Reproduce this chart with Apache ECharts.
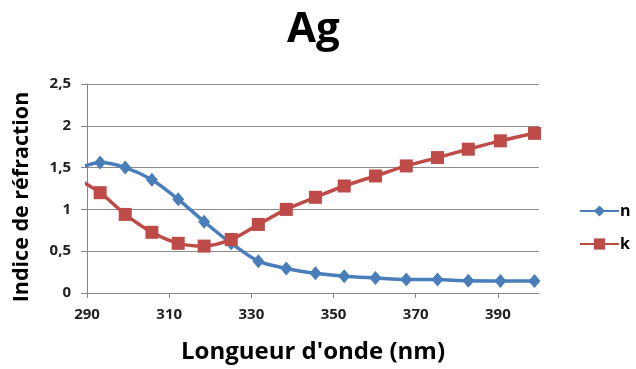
<!DOCTYPE html>
<html>
<head>
<meta charset="utf-8">
<script src="https://cdn.jsdelivr.net/npm/echarts@6/dist/echarts.min.js"></script>
<style>
  html, body { margin: 0; padding: 0; background: #fff; }
  #chart { width: 636px; height: 369px; }
</style>
</head>
<body>
<div id="chart"></div>
<script>
// longueur d'onde (nm) et indices
const wavelengths = [287.1, 293.2, 299.3, 305.8, 312.2, 318.5, 325.1, 331.7, 338.5, 345.6, 352.6, 360.2, 367.7, 375.3, 382.8, 390.6, 398.9];
const nValues = [1.47, 1.56, 1.50, 1.355, 1.12, 0.853, 0.594, 0.381, 0.293, 0.235, 0.20, 0.18, 0.162, 0.16, 0.147, 0.145, 0.145];
const kValues = [1.38, 1.20, 0.94, 0.726, 0.594, 0.561, 0.64, 0.82, 1.00, 1.145, 1.28, 1.40, 1.52, 1.62, 1.72, 1.82, 1.91];
const xTicks = [290, 310, 330, 350, 370, 390];

const font = "'Open Sans', 'Liberation Sans', sans-serif";
const chart = echarts.init(document.getElementById("chart"));

const option = {
  animation: false,
  backgroundColor: "#ffffff",
  textStyle: { fontFamily: font },
  title: {
    text: "Ag",
    left: 282,
    top: 4,
    textStyle: { fontSize: 42, fontWeight: "bold", color: "#000", fontFamily: font },
  },
  legend: {
    orient: "vertical",
    left: 574,
    top: 198,
    itemGap: 17,
    itemWidth: 39,
    itemHeight: 14,
    textStyle: { fontSize: 16, fontWeight: "bold", color: "#000", padding: [0, 0, 0, -4] },
    data: ["n", "k"],
  },
  grid: { left: 87, right: 97, top: 84, bottom: 76 },
  xAxis: {
    type: "value",
    min: 290,
    max: 400,
    interval: 20,
    name: "Longueur d'onde (nm)",
    nameLocation: "middle",
    nameGap: 47,
    nameTextStyle: { fontSize: 24, fontWeight: "bold", color: "#000" },
    axisLine: { lineStyle: { color: "#868686", width: 1 } },
    axisTick: { show: true, length: 5, customValues: xTicks, lineStyle: { color: "#868686" } },
    axisLabel: { customValues: xTicks, fontSize: 15, fontWeight: "bold", color: "#222", margin: 14 },
    splitLine: { show: false },
  },
  yAxis: {
    type: "value",
    min: 0,
    max: 2.5,
    interval: 0.5,
    name: "Indice de réfraction",
    nameLocation: "middle",
    nameGap: 54,
    nameTextStyle: { fontSize: 21.5, fontWeight: "bold", color: "#000", padding: [0, 17, 0, 0] },
    axisLine: { show: true, lineStyle: { color: "#868686", width: 1 } },
    axisTick: { show: true, length: 6, lineStyle: { color: "#868686" } },
    axisLabel: {
      fontSize: 15,
      fontWeight: "bold",
      color: "#222",
      margin: 16,
      formatter: (v) => String(v).replace(".", ","),
    },
    splitLine: { show: true, lineStyle: { color: "#8c8c8c", width: 1 } },
  },
  series: [
    {
      name: "n",
      type: "line",
      smooth: 0.3,
      clip: true,
      symbol: "diamond",
      symbolSize: [12, 14],
      color: "#4a7ebb",
      lineStyle: { width: 3.5 },
      data: wavelengths.map((w, i) => [w, nValues[i]]),
    },
    {
      name: "k",
      type: "line",
      smooth: 0.3,
      clip: true,
      symbol: "rect",
      symbolSize: 13,
      color: "#be4b48",
      lineStyle: { width: 3.5 },
      data: wavelengths.map((w, i) => [w, kValues[i]]),
    },
  ],
};

chart.setOption(option);
</script>
</body>
</html>
